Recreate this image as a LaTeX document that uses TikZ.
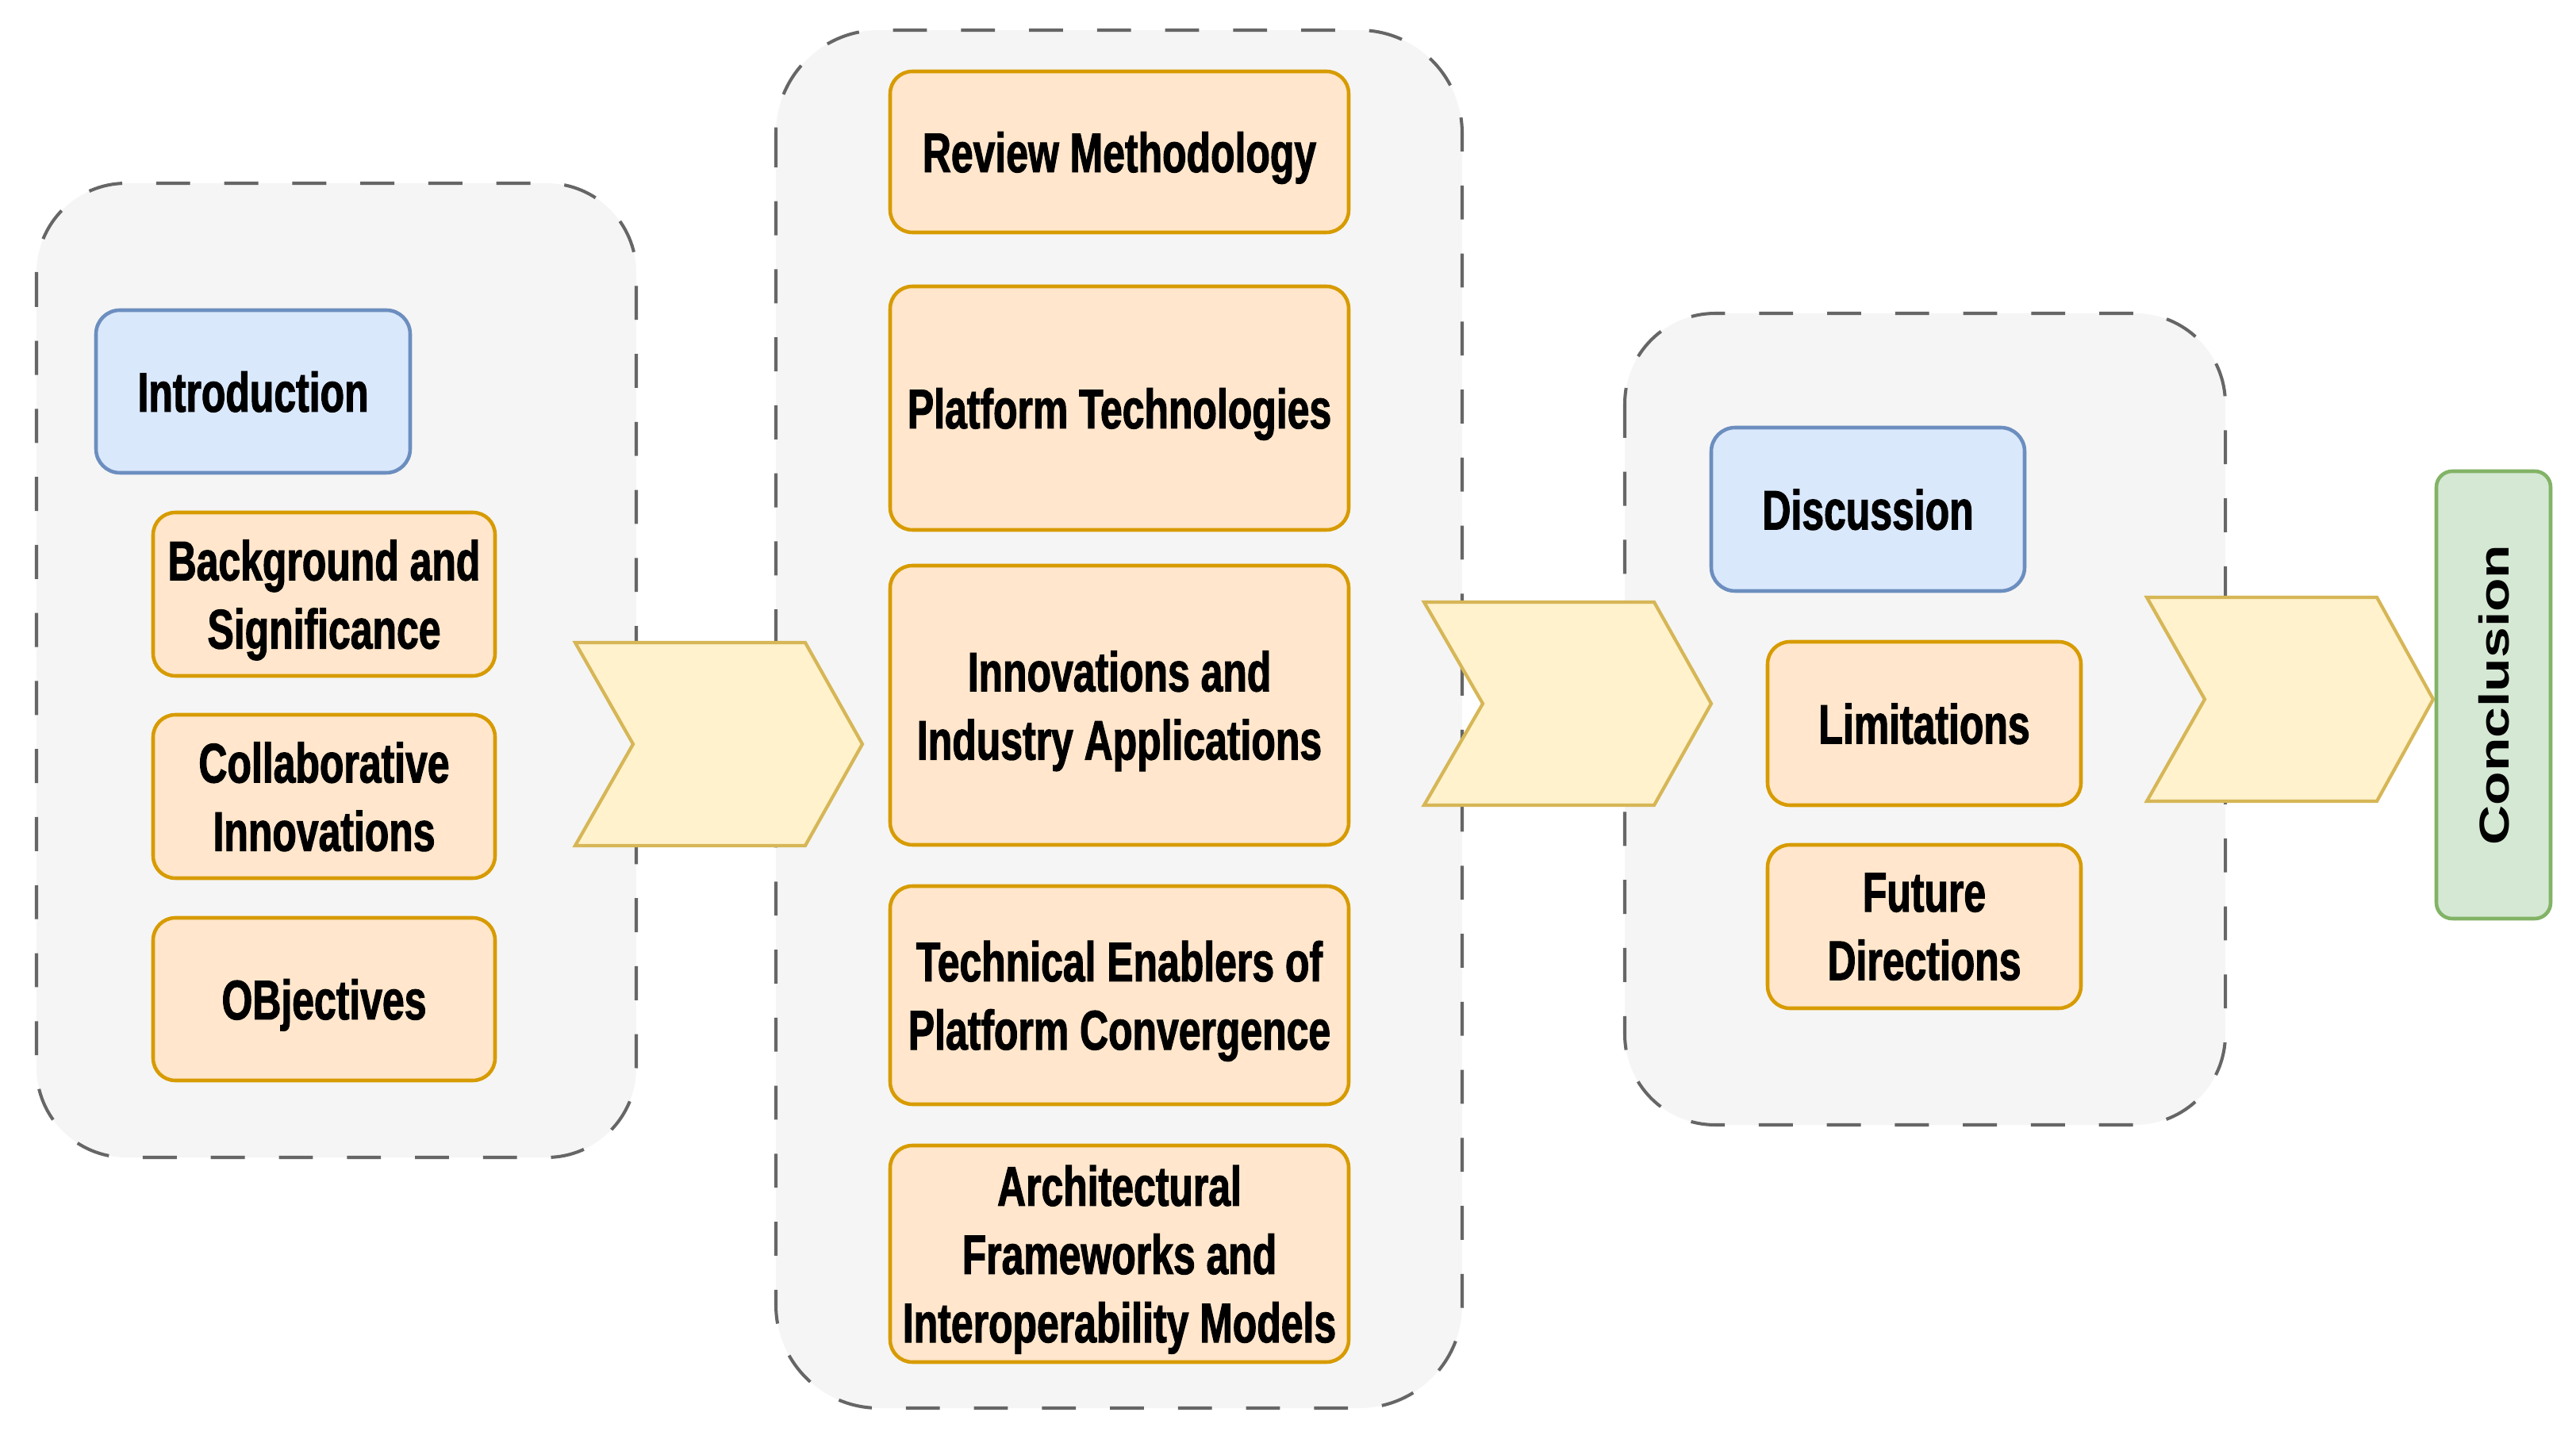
\documentclass[tikz,border=0pt]{standalone}
\usepackage{fontspec}
\newfontfamily\boxfont{Liberation Sans}[FakeStretch=0.71, FakeBold=1.5]
\newfontfamily\widefont{Liberation Sans}[FakeStretch=1.32]
\definecolor{groupfill}{HTML}{F5F5F5}
\definecolor{groupline}{HTML}{666666}
\definecolor{bluefill}{HTML}{DAE8FC}
\definecolor{blueline}{HTML}{6C8EBF}
\definecolor{orangefill}{HTML}{FFE6CC}
\definecolor{orangeline}{HTML}{D79B00}
\definecolor{yellowfill}{HTML}{FFF2CC}
\definecolor{yellowline}{HTML}{D6B656}
\definecolor{greenfill}{HTML}{D5E8D4}
\definecolor{greenline}{HTML}{82B366}
\begin{document}
\begin{tikzpicture}[scale=0.1]
    \tikzstyle{every node}+=[inner sep=0pt, align=center, text depth=0pt, font=\boxfont\bfseries\fontsize{20}{24.5}\selectfont]
    \tikzstyle{group}=[draw=groupline, fill=groupfill, line width=1.15pt, dash pattern=on 12.2pt off 12.2pt]
    \tikzstyle{part}=[draw=blueline, fill=bluefill, line width=1.3pt, rounded corners=0.3cm]
    \tikzstyle{topic}=[draw=orangeline, fill=orangefill, line width=1.3pt, rounded corners=0.28cm]
    \tikzstyle{closing}=[draw=greenline, fill=greenfill, line width=1.3pt, rounded corners=0.2cm]
    \tikzstyle{flow}=[draw=yellowline, fill=yellowfill, line width=1.2pt]
    \useasboundingbox (0,0) rectangle (324.7,-181.9);
    % dashed groups
    \draw [group, rounded corners=1.13cm] (4.6,-23.1) rectangle (80.2,-145.9);
    \draw [group, rounded corners=1.3cm] (97.8,-3.8) rectangle (184.3,-177.5);
    \draw [group, rounded corners=1.14cm] (204.8,-39.5) rectangle (280.5,-141.8);
    % first group
    \node [part, minimum width=3.96cm, minimum height=2.05cm] (intro) at (31.9,-49.35) {Introduction};
    \node [topic, minimum width=4.31cm, minimum height=2.06cm] (background) at (40.85,-74.9) {Background and\\Significance};
    \node [topic, minimum width=4.31cm, minimum height=2.06cm] (collab) at (40.85,-100.4) {Collaborative\\Innovations};
    \node [topic, minimum width=4.31cm, minimum height=2.05cm] (objectives) at (40.85,-125.95) {OBjectives};
    % second group
    \node [topic, minimum width=5.78cm, minimum height=2.03cm] (review) at (141.1,-19.15) {Review Methodology};
    \node [topic, minimum width=5.78cm, minimum height=3.07cm] (platform) at (141.1,-51.45) {Platform Technologies};
    \node [topic, minimum width=5.78cm, minimum height=3.52cm] (industry) at (141.1,-88.9) {Innovations and\\Industry Applications};
    \node [topic, minimum width=5.78cm, minimum height=2.75cm] (enablers) at (141.1,-125.45) {Technical Enablers of\\Platform Convergence};
    \node [topic, minimum width=5.78cm, minimum height=2.73cm] (frameworks) at (141.1,-158.05) {Architectural\\Frameworks and\\Interoperability Models};
    % third group
    \node [part, minimum width=3.95cm, minimum height=2.06cm] (discussion) at (235.45,-64.2) {Discussion};
    \node [topic, minimum width=3.95cm, minimum height=2.06cm] (limits) at (242.55,-91.2) {Limitations};
    \node [topic, minimum width=3.95cm, minimum height=2.06cm] (future) at (242.55,-116.8) {Future\\Directions};
    % chevrons
    \draw [flow] (72.5,-81.0) -- (101.5,-81.0) -- (108.7,-93.8) -- (101.5,-106.6) -- (72.5,-106.6) -- (79.8,-93.8) -- cycle;
    \draw [flow] (179.5,-75.9) -- (208.5,-75.9) -- (215.7,-88.7) -- (208.5,-101.5) -- (179.5,-101.5) -- (186.9,-88.7) -- cycle;
    \draw [flow] (270.6,-75.3) -- (299.6,-75.3) -- (306.7,-88.15) -- (299.6,-101.0) -- (270.6,-101.0) -- (277.9,-88.15) -- cycle;
    % end
    \node [closing, rotate=90, minimum width=5.64cm, minimum height=1.44cm, font=\widefont\bfseries\fontsize{15}{18}\selectfont] (conclusion) at (314.3,-87.6) {Conclusion};
\end{tikzpicture}
\end{document}
